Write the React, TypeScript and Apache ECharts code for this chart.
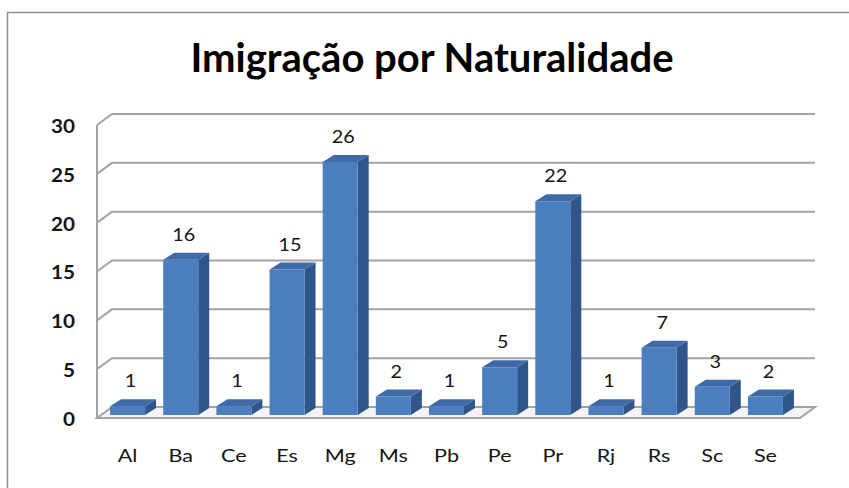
import React, { useEffect, useRef } from "react";
import * as echarts from "echarts";

const titleText = "Imigração por Naturalidade";
const categories = ["Al", "Ba", "Ce", "Es", "Mg", "Ms", "Pb", "Pe", "Pr", "Rj", "Rs", "Sc", "Se"];
const values = [1, 16, 1, 15, 26, 2, 1, 5, 22, 1, 7, 3, 2];
const yTicks = [0, 5, 10, 15, 20, 25, 30];

const FRONT = "#4A7EBE";
const TOP = "#3E6BA8";
const SIDE = "#30558A";
const GRID_COLOR = "#a3a3a3";
const TEXT_COLOR = "#141414";

export default function App() {
  const ref = useRef<HTMLDivElement>(null);
  useEffect(() => {
    if (!ref.current) return;
    const chart = echarts.init(ref.current, null, { renderer: "svg" });
    const DX = 15;
    const DY = -11;
    const option: any = {
      animation: false,
      backgroundColor: "#ffffff",
      graphic: [
        {
          type: "rect",
          shape: { x: 7.5, y: 12.5, width: 900, height: 600 },
          style: { fill: "none", stroke: "#8f8f8f", lineWidth: 1.5 },
          z: 100,
        },
        {
          type: "text",
          x: 432,
          y: 57,
          style: {
            text: titleText,
            fontFamily: "Lato",
            fontWeight: "bold",
            fontSize: 40,
            fill: "#000",
            align: "center",
            verticalAlign: "middle",
          },
        },
      ],
      grid: { left: 101, right: 57, top: 123, bottom: 72 },
      xAxis: {
        type: "category",
        data: categories,
        axisLine: { show: false },
        axisTick: { show: false },
        splitLine: { show: false },
        axisLabel: { show: false },
      },
      yAxis: {
        type: "value",
        min: 0,
        max: 30,
        interval: 5,
        axisLine: { show: false },
        axisTick: { show: false },
        splitLine: { show: false },
        axisLabel: { show: false },
      },
      series: [
        {
          type: "custom",
          z: 1,
          data: [0],
          silent: true,
          renderItem: (params: any, api: any) => {
            const cs = params.coordSys;
            const x0 = cs.x - 4;
            const x1 = cs.x + cs.width + 8;
            const children: any[] = [];
            yTicks.forEach((v) => {
              const y = api.coord([0, v])[1] + 2;
              if (v === 0) {
                children.push({
                  type: "polygon",
                  shape: {
                    points: [
                      [x0, y],
                      [x1, y],
                      [x1 + DX, y + DY],
                      [x0 + DX, y + DY],
                    ],
                  },
                  style: { fill: "#f4f4f4", stroke: GRID_COLOR, lineWidth: 2 },
                });
              } else {
                children.push({
                  type: "polyline",
                  shape: {
                    points: [
                      [x0, y],
                      [x0 + DX, y + DY],
                      [x1 + DX, y + DY],
                    ],
                  },
                  style: { fill: "none", stroke: GRID_COLOR, lineWidth: 2 },
                });
              }
              children.push({
                type: "text",
                x: cs.x - 26,
                y: y + 1,
                scaleX: 1.15,
                style: {
                  text: String(v),
                  fontFamily: "Lato",
                  fontWeight: "bold",
                  fontSize: 18,
                  fill: TEXT_COLOR,
                  align: "right",
                  verticalAlign: "middle",
                },
              });
            });
            const yTop = api.coord([0, 30])[1] + 2;
            const yBot = api.coord([0, 0])[1] + 2;
            children.push({
              type: "line",
              shape: { x1: x0, y1: yTop, x2: x0, y2: yBot },
              style: { stroke: GRID_COLOR, lineWidth: 2 },
            });
            categories.forEach((c, i) => {
              const p = api.coord([i, 0]);
              children.push({
                type: "text",
                x: p[0],
                y: p[1] + 39,
                scaleX: 1.2,
                style: {
                  text: c,
                  fontFamily: "Lato",
                  fontSize: 18,
                  fill: TEXT_COLOR,
                  align: "center",
                  verticalAlign: "middle",
                },
              });
            });
            return { type: "group", children };
          },
        },
        {
          type: "custom",
          z: 2,
          data: values.map((v, i) => [i, v]),
          encode: { x: 0, y: 1 },
          renderItem: (params: any, api: any) => {
            const i = api.value(0);
            const v = api.value(1);
            const top = api.coord([i, v]);
            const base = api.coord([i, 0]);
            const hw = 17.5;
            const dx = 11;
            const dy = -7;
            const l = top[0] - hw;
            const r = top[0] + hw;
            const t = top[1];
            const b = base[1] - 1;
            return {
              type: "group",
              children: [
                {
                  type: "polygon",
                  shape: { points: [[r, t], [r + dx, t + dy], [r + dx, b + dy], [r, b]] },
                  style: { fill: SIDE },
                },
                {
                  type: "polygon",
                  shape: { points: [[l, t], [l + dx, t + dy], [r + dx, t + dy], [r, t]] },
                  style: { fill: TOP },
                },
                {
                  type: "rect",
                  shape: { x: l, y: t, width: r - l, height: b - t },
                  style: { fill: FRONT },
                },
                {
                  type: "text",
                  x: top[0] + 3,
                  y: t + dy - 19,
                  scaleX: 1.1,
                  style: {
                    text: String(v),
                    fontFamily: "Lato",
                    fontSize: 18,
                    fill: TEXT_COLOR,
                    align: "center",
                    verticalAlign: "middle",
                  },
                },
              ],
            };
          },
        },
      ],
    };
    chart.setOption(option);
    return () => chart.dispose();
  }, []);
  return <div ref={ref} style={{ width: 849, height: 488, position: "absolute", left: 0, top: 0 }} />;
}
